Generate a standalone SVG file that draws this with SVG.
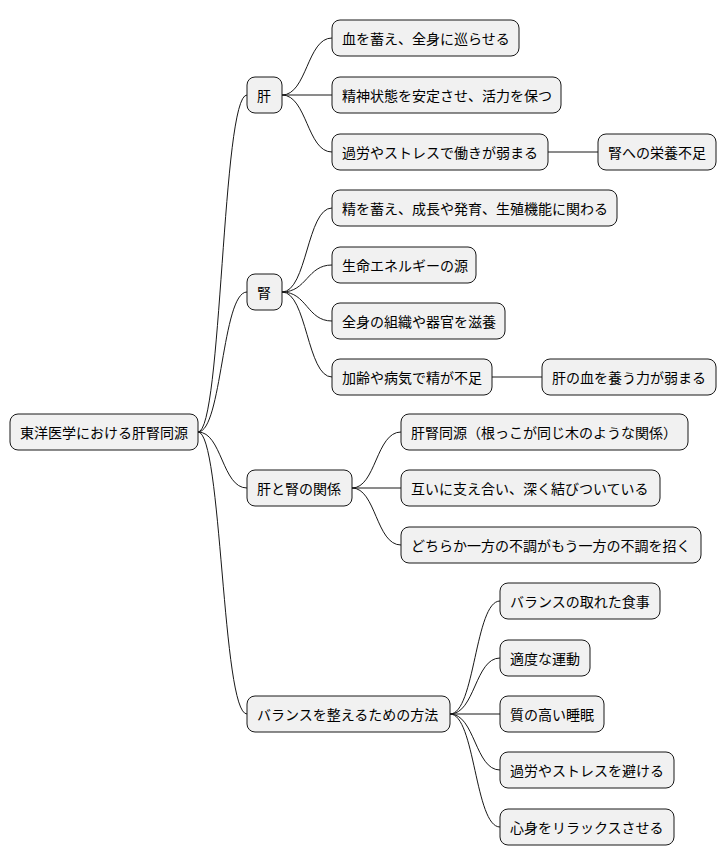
<svg xmlns="http://www.w3.org/2000/svg" width="726" height="865" viewBox="0 0 726 865">
<style>
.n rect{fill:#F1F1F1;stroke:#181818;stroke-width:1}
.n text{font-family:"Noto Sans CJK JP","Noto Sans CJK SC",sans-serif;font-size:14px;fill:#000;dominant-baseline:central}
.c path{fill:none;stroke:#181818;stroke-width:1}
</style>
<rect width="726" height="865" fill="#fff"/>
<g class="c">
<path d="M198,432 C222,432 222,95 247,95"/>
<path d="M198,432 C222,432 222,292 247,292"/>
<path d="M198,432 C222,432 222,488 247,488"/>
<path d="M198,432 C222,432 222,714 247,714"/>
<path d="M282,95 C307,95 307,38 332,38"/>
<path d="M282,95 L332,95"/>
<path d="M282,95 C307,95 307,152 332,152"/>
<path d="M548,152 L598,152"/>
<path d="M282,292 C307,292 307,208 332,208"/>
<path d="M282,292 C307,292 307,265 332,265"/>
<path d="M282,292 C307,292 307,321 332,321"/>
<path d="M282,292 C307,292 307,377 332,377"/>
<path d="M492,377 L542,377"/>
<path d="M352,488 C376,488 376,432 401,432"/>
<path d="M352,488 L401,488"/>
<path d="M352,488 C376,488 376,545 401,545"/>
<path d="M450,714 C475,714 475,601 500,601"/>
<path d="M450,714 C475,714 475,658 500,658"/>
<path d="M450,714 L500,714"/>
<path d="M450,714 C475,714 475,770 500,770"/>
<path d="M450,714 C475,714 475,827 500,827"/>
</g>
<g id="root" class="n"><rect x="10" y="414" width="188" height="36" rx="8"/><text x="20" y="432">東洋医学における肝腎同源</text></g>
<g id="kan" class="n"><rect x="247" y="77" width="35" height="36" rx="8"/><text x="257" y="95">肝</text></g>
<g id="kan1" class="n"><rect x="332" y="20" width="187" height="36" rx="8"/><text x="342" y="38">血を蓄え、全身に巡らせる</text></g>
<g id="kan2" class="n"><rect x="332" y="77" width="229" height="36" rx="8"/><text x="342" y="95">精神状態を安定させ、活力を保つ</text></g>
<g id="kan3" class="n"><rect x="332" y="134" width="216" height="36" rx="8"/><text x="342" y="152">過労やストレスで働きが弱まる</text></g>
<g id="kan31" class="n"><rect x="598" y="134" width="118" height="36" rx="8"/><text x="608" y="152">腎への栄養不足</text></g>
<g id="jin" class="n"><rect x="247" y="274" width="35" height="36" rx="8"/><text x="257" y="292">腎</text></g>
<g id="jin1" class="n"><rect x="332" y="190" width="285" height="36" rx="8"/><text x="342" y="208">精を蓄え、成長や発育、生殖機能に関わる</text></g>
<g id="jin2" class="n"><rect x="332" y="247" width="144" height="36" rx="8"/><text x="342" y="265">生命エネルギーの源</text></g>
<g id="jin3" class="n"><rect x="332" y="303" width="173" height="36" rx="8"/><text x="342" y="321">全身の組織や器官を滋養</text></g>
<g id="jin4" class="n"><rect x="332" y="359" width="160" height="36" rx="8"/><text x="342" y="377">加齢や病気で精が不足</text></g>
<g id="jin41" class="n"><rect x="542" y="359" width="174" height="36" rx="8"/><text x="552" y="377">肝の血を養う力が弱まる</text></g>
<g id="rel" class="n"><rect x="247" y="470" width="105" height="36" rx="8"/><text x="257" y="488">肝と腎の関係</text></g>
<g id="rel1" class="n"><rect x="401" y="414" width="287" height="36" rx="8"/><text x="411" y="432">肝腎同源（根っこが同じ木のような関係）</text></g>
<g id="rel2" class="n"><rect x="401" y="470" width="259" height="36" rx="8"/><text x="411" y="488">互いに支え合い、深く結びついている</text></g>
<g id="rel3" class="n"><rect x="401" y="527" width="300" height="36" rx="8"/><text x="411" y="545">どちらか一方の不調がもう一方の不調を招く</text></g>
<g id="bal" class="n"><rect x="247" y="696" width="203" height="36" rx="8"/><text x="257" y="714">バランスを整えるための方法</text></g>
<g id="bal1" class="n"><rect x="500" y="583" width="160" height="36" rx="8"/><text x="510" y="601">バランスの取れた食事</text></g>
<g id="bal2" class="n"><rect x="500" y="640" width="90" height="36" rx="8"/><text x="510" y="658">適度な運動</text></g>
<g id="bal3" class="n"><rect x="500" y="696" width="104" height="36" rx="8"/><text x="510" y="714">質の高い睡眠</text></g>
<g id="bal4" class="n"><rect x="500" y="752" width="174" height="36" rx="8"/><text x="510" y="770">過労やストレスを避ける</text></g>
<g id="bal5" class="n"><rect x="500" y="809" width="174" height="36" rx="8"/><text x="510" y="827">心身をリラックスさせる</text></g>
</svg>
